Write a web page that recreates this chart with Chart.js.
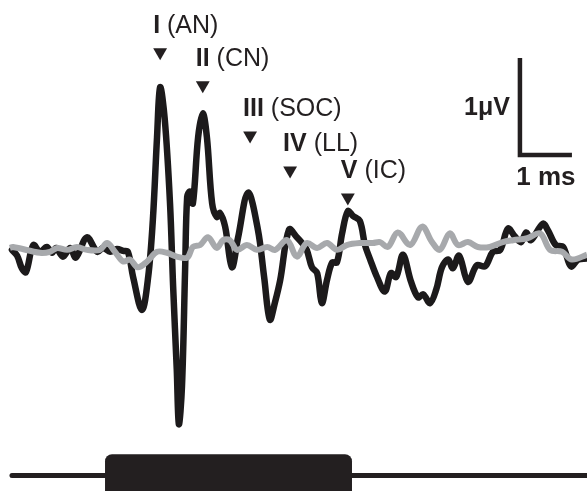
<!DOCTYPE html>
<html>
<head>
<meta charset="utf-8">
<script src="https://cdn.jsdelivr.net/npm/chart.js@4/dist/chart.umd.min.js"></script>
<style>
  html, body { margin: 0; padding: 0; background: #fff; }
  #wrap { width: 587px; height: 491px; position: relative; }
</style>
</head>
<body>
<div id="wrap"><canvas id="abrChart"></canvas></div>
<script>
// ABR waveform: time in ms (0 = stimulus onset), amplitude in µV

const responseTimes = [-1.79, -1.69, -1.60, -1.52, -1.38, -1.25, -1.12, -1.02, -0.94, -0.81, -0.67, -0.56, -0.35, -0.15, -0.04, 0.10, 0.23, 0.35, 0.44, 0.54, 0.71, 0.83, 0.92, 1.00, 1.06, 1.15, 1.25, 1.31, 1.38, 1.42, 1.48, 1.54, 1.58, 1.63, 1.69, 1.79, 1.88, 1.96, 2.06, 2.15, 2.21, 2.31, 2.44, 2.56, 2.75, 2.94, 3.06, 3.17, 3.27, 3.37, 3.54, 3.69, 3.79, 3.88, 3.98, 4.08, 4.17, 4.27, 4.37, 4.46, 4.56, 4.67, 4.77, 4.90, 5.00, 5.10, 5.23, 5.38, 5.50, 5.60, 5.73, 5.88, 6.02, 6.12, 6.25, 6.37, 6.48, 6.60, 6.69, 6.81, 6.98, 7.15, 7.31, 7.46, 7.60, 7.75, 7.88, 8.00, 8.10, 8.19, 8.42, 8.52, 8.67, 8.81, 8.96, 9.10, 9.27];
const responseValues = [-0.02, -0.08, -0.21, -0.25, 0.03, -0.04, 0.01, -0.05, 0.00, -0.09, 0.00, -0.10, 0.11, -0.04, 0.00, -0.04, -0.01, -0.03, -0.04, -0.30, -0.64, -0.30, 0.29, 1.14, 1.66, 1.32, 0.46, -0.40, -1.26, -1.82, -1.43, -0.23, 0.53, 0.58, 0.46, 1.14, 1.39, 1.14, 0.46, 0.32, 0.36, 0.22, -0.20, 0.11, 0.57, 0.19, -0.30, -0.74, -0.56, -0.33, 0.19, 0.11, 0.05, -0.02, -0.20, -0.26, -0.57, -0.33, -0.15, -0.15, 0.15, 0.38, 0.33, 0.28, 0.03, -0.12, -0.30, -0.45, -0.26, -0.30, -0.07, -0.34, -0.51, -0.48, -0.57, -0.43, -0.20, -0.12, -0.21, -0.08, -0.35, -0.18, -0.19, -0.04, -0.02, 0.20, 0.12, 0.06, 0.16, 0.08, 0.25, 0.18, 0.03, 0.01, -0.19, -0.12, -0.11];

const controlTimes = [-1.83, -1.77, -1.25, -1.06, -0.92, -0.73, -0.54, -0.35, -0.10, 0.04, 0.19, 0.35, 0.48, 0.63, 0.81, 1.00, 1.19, 1.38, 1.58, 1.69, 1.83, 1.98, 2.15, 2.27, 2.40, 2.54, 2.73, 2.92, 3.12, 3.27, 3.50, 3.69, 3.88, 4.08, 4.27, 4.46, 4.65, 4.90, 5.15, 5.29, 5.44, 5.63, 5.87, 6.10, 6.29, 6.44, 6.63, 6.79, 6.98, 7.17, 7.40, 7.65, 7.85, 8.12, 8.37, 8.56, 8.79, 8.98, 9.27];
const controlValues = [0.00, 0.01, -0.05, -0.04, 0.00, -0.02, 0.01, -0.02, -0.02, 0.05, -0.04, -0.14, -0.12, -0.20, -0.14, -0.04, -0.05, -0.09, -0.10, 0.01, 0.03, 0.11, 0.00, 0.08, 0.08, -0.02, 0.03, -0.02, 0.01, -0.02, 0.08, -0.09, 0.05, 0.00, 0.05, -0.02, 0.03, 0.05, 0.05, 0.06, 0.01, 0.16, 0.03, 0.22, 0.06, -0.02, 0.15, 0.03, 0.06, 0.01, 0.01, 0.06, 0.08, 0.10, 0.15, -0.02, -0.04, -0.12, -0.07];

// wave peaks and their generators
const peakNames = ['I', 'II', 'III', 'IV', 'V'];
const peakSites = ['AN', 'CN', 'SOC', 'LL', 'IC'];
const peakTimes = [1.06, 1.88, 2.79, 3.56, 4.67];
const peakMarks = [2.02, 1.68, 1.16, 0.80, 0.52];

// stimulus trace
const stimTimes = [-1.79, 9.27];
const stimLevel = -2.35;
const stimOn = 0;
const stimOff = 4.75;
const stimTop = -2.13;

// scale bar (1 ms, 1 µV)
const barTime = 7.98;
const barLevel = 0.96;

const xMin = -2.02, xMax = 9.27;
const yMin = -2.51, yMax = 2.56;

function pairs(xs, ys) {
    return xs.map((x, i) => ({ x: x, y: ys[i] }));
}

const overlayPlugin = {
    id: 'overlay',
    afterDatasetsDraw(chart) {
        const ctx = chart.ctx;
        const xs = chart.scales.x;
        const ys = chart.scales.y;
        ctx.save();

        // stimulus box
        const bx0 = xs.getPixelForValue(stimOn);
        const bx1 = xs.getPixelForValue(stimOff);
        const by0 = ys.getPixelForValue(stimTop);
        const by1 = chart.height + 10;
        ctx.fillStyle = '#231f20';
        ctx.beginPath();
        ctx.roundRect(bx0, by0, bx1 - bx0, by1 - by0, 7);
        ctx.fill();

        // scale bar
        ctx.strokeStyle = '#231f20';
        ctx.lineWidth = 4.5;
        ctx.lineJoin = 'miter';
        ctx.beginPath();
        ctx.moveTo(xs.getPixelForValue(barTime), ys.getPixelForValue(barLevel + 1));
        ctx.lineTo(xs.getPixelForValue(barTime), ys.getPixelForValue(barLevel));
        ctx.lineTo(xs.getPixelForValue(barTime + 1), ys.getPixelForValue(barLevel));
        ctx.stroke();

        ctx.fillStyle = '#231f20';
        ctx.textBaseline = 'middle';
        ctx.font = 'bold 25px "Liberation Sans", Arial, sans-serif';
        ctx.textAlign = 'right';
        ctx.fillText('1\u03bcV', xs.getPixelForValue(barTime) - 10, ys.getPixelForValue(barLevel + 0.5) + 2);
        ctx.textAlign = 'center';
        ctx.font = 'bold 26px "Liberation Sans", Arial, sans-serif';
        ctx.fillText('1 ms', xs.getPixelForValue(barTime + 0.5), ys.getPixelForValue(barLevel) + 23);

        // peak labels
        ctx.textAlign = 'left';
        peakNames.forEach((name, i) => {
            const px = xs.getPixelForValue(peakTimes[i]) - 7;
            const py = ys.getPixelForValue(peakMarks[i]) - 26;
            ctx.font = 'bold 25px "Liberation Sans", Arial, sans-serif';
            ctx.fillText(name, px, py);
            const w = ctx.measureText(name + ' ').width;
            ctx.font = '25px "Liberation Sans", Arial, sans-serif';
            ctx.fillText('(' + peakSites[i] + ')', px + w, py);
        });
        ctx.restore();
    }
};

new Chart(document.getElementById('abrChart'), {
    type: 'scatter',
    data: {
        datasets: [
            {
                label: 'Stimulus',
                data: pairs(stimTimes, [stimLevel, stimLevel]),
                showLine: true,
                borderColor: '#231f20',
                borderWidth: 5,
                borderCapStyle: 'round',
                pointRadius: 0
            },
            {
                label: 'No stimulus',
                data: pairs(controlTimes, controlValues),
                showLine: true,
                borderColor: '#a7a9ac',
                borderWidth: 6,
                tension: 0.35,
                pointRadius: 0
            },
            {
                label: 'ABR',
                data: pairs(responseTimes, responseValues),
                showLine: true,
                borderColor: '#1c1a1b',
                borderWidth: 6.5,
                borderJoinStyle: 'round',
                borderCapStyle: 'round',
                tension: 0.35,
                pointRadius: 0
            },
            {
                label: 'Peaks',
                data: pairs(peakTimes, peakMarks),
                showLine: false,
                pointStyle: 'triangle',
                rotation: 180,
                pointRadius: 8,
                backgroundColor: '#231f20',
                borderColor: '#231f20',
                borderWidth: 0
            }
        ]
    },
    options: {
        responsive: true,
        maintainAspectRatio: false,
        animation: false,
        layout: { padding: 0, autoPadding: false },
        plugins: {
            legend: { display: false },
            tooltip: { enabled: false }
        },
        scales: {
            x: { type: 'linear', min: xMin, max: xMax, display: false },
            y: { type: 'linear', min: yMin, max: yMax, display: false }
        }
    },
    plugins: [overlayPlugin]
});
</script>
</body>
</html>
